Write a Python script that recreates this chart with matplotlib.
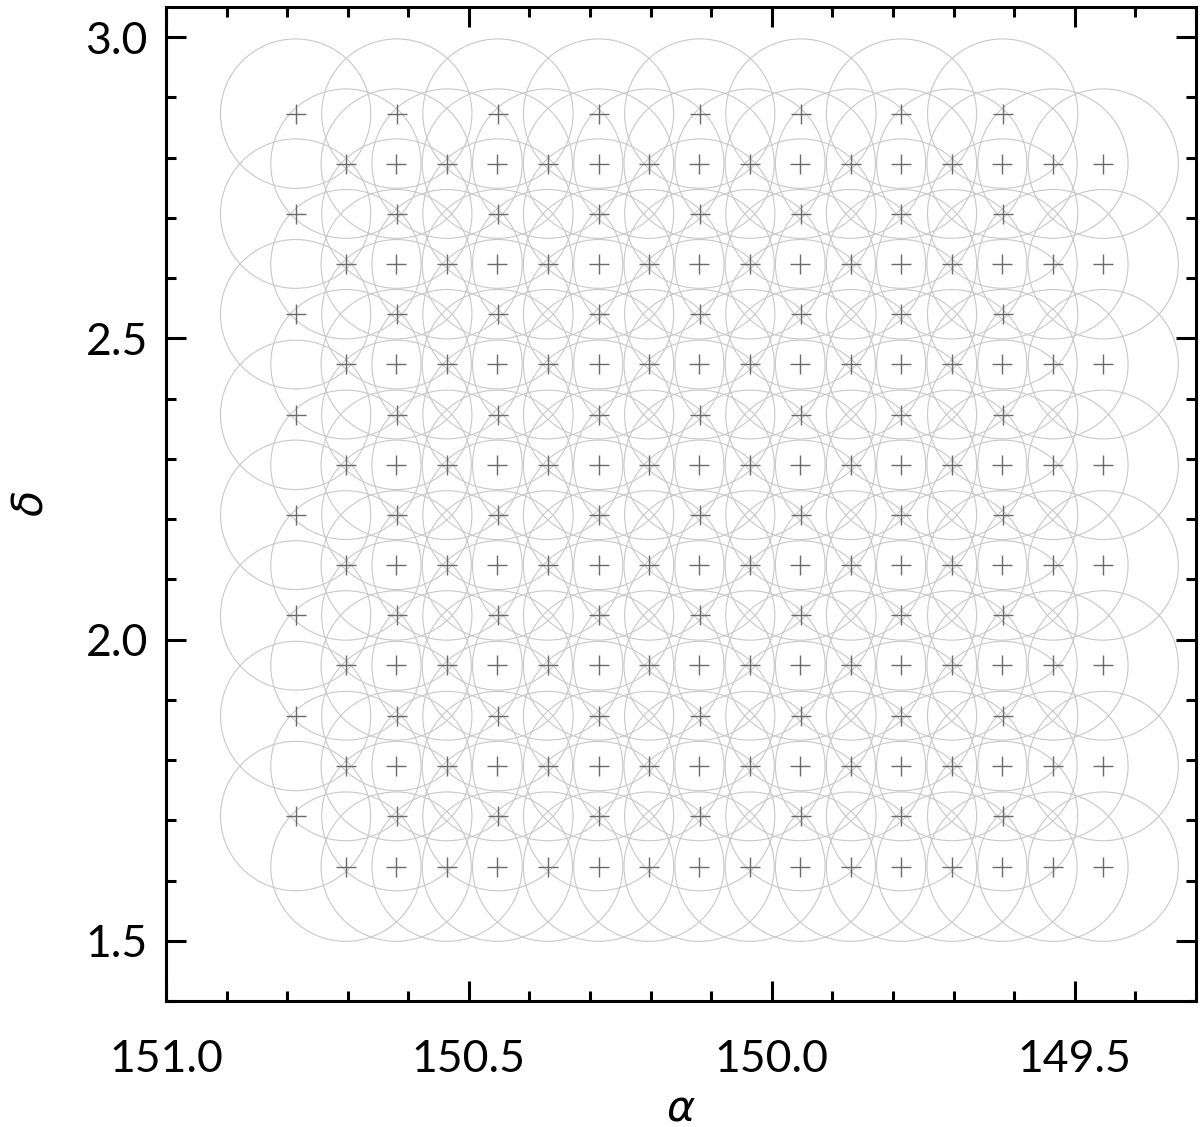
import numpy as np
import matplotlib
matplotlib.use('Agg')
import matplotlib.pyplot as plt
from matplotlib.patches import Circle
from matplotlib.ticker import MultipleLocator, FormatStrFormatter

plt.rcParams['font.family'] = ['Lato', 'DejaVu Sans']

# pointing centres in degrees
# rows with wide spacing in RA
ra_coarse = [150.786, 150.619, 150.452, 150.286, 150.119, 149.952, 149.786, 149.619]
dec_coarse = [2.873, 2.707, 2.540, 2.373, 2.207, 2.040, 1.873, 1.707]
# rows with half the spacing in RA
ra_fine = [150.703, 150.620, 150.536, 150.453, 150.370, 150.286, 150.203, 150.120,
           150.036, 149.953, 149.870, 149.786, 149.703, 149.620, 149.536, 149.453]
dec_fine = [2.790, 2.623, 2.457, 2.290, 2.123, 1.957, 1.790, 1.623]
beam_radius = 0.124  # deg

xticks = [151.0, 150.5, 150.0, 149.5]
yticks = [1.5, 2.0, 2.5, 3.0]

ra_pts = []
dec_pts = []
for d in dec_coarse:
    for r in ra_coarse:
        ra_pts.append(r)
        dec_pts.append(d)
for d in dec_fine:
    for r in ra_fine:
        ra_pts.append(r)
        dec_pts.append(d)

fig = plt.figure(figsize=(12, 11.27), dpi=100)
ax = fig.add_axes([0.1383, 0.1118, 0.8583, 0.882])

for r, d in zip(ra_pts, dec_pts):
    ax.add_patch(Circle((r, d), beam_radius, fill=False, ec='#c8c8c8', lw=0.8, zorder=1))
ax.plot(ra_pts, dec_pts, ls='none', marker='+', ms=15, mew=1.0, color='#6a6a6a', zorder=2)

ax.set_xlim(151.0, 149.3)
ax.set_ylim(1.40, 3.05)

ax.set_xticks(xticks)
ax.set_yticks(yticks)
ax.xaxis.set_minor_locator(MultipleLocator(0.1))
ax.yaxis.set_minor_locator(MultipleLocator(0.1))
ax.xaxis.set_major_formatter(FormatStrFormatter('%.1f'))
ax.yaxis.set_major_formatter(FormatStrFormatter('%.1f'))

ax.tick_params(which='both', direction='in', top=True, right=True, width=2.2,
               labelsize=32, labelcolor='black')
ax.tick_params(which='major', length=14.5)
ax.tick_params(which='minor', length=7)
ax.tick_params(axis='x', pad=27)
ax.tick_params(axis='y', pad=13)
for s in ax.spines.values():
    s.set_linewidth(2.2)

ax.set_xlabel(r'$\alpha$', fontsize=31, labelpad=7)
ax.set_ylabel(r'$\delta$', fontsize=31, labelpad=26)

fig.savefig('out.png', dpi=100)
